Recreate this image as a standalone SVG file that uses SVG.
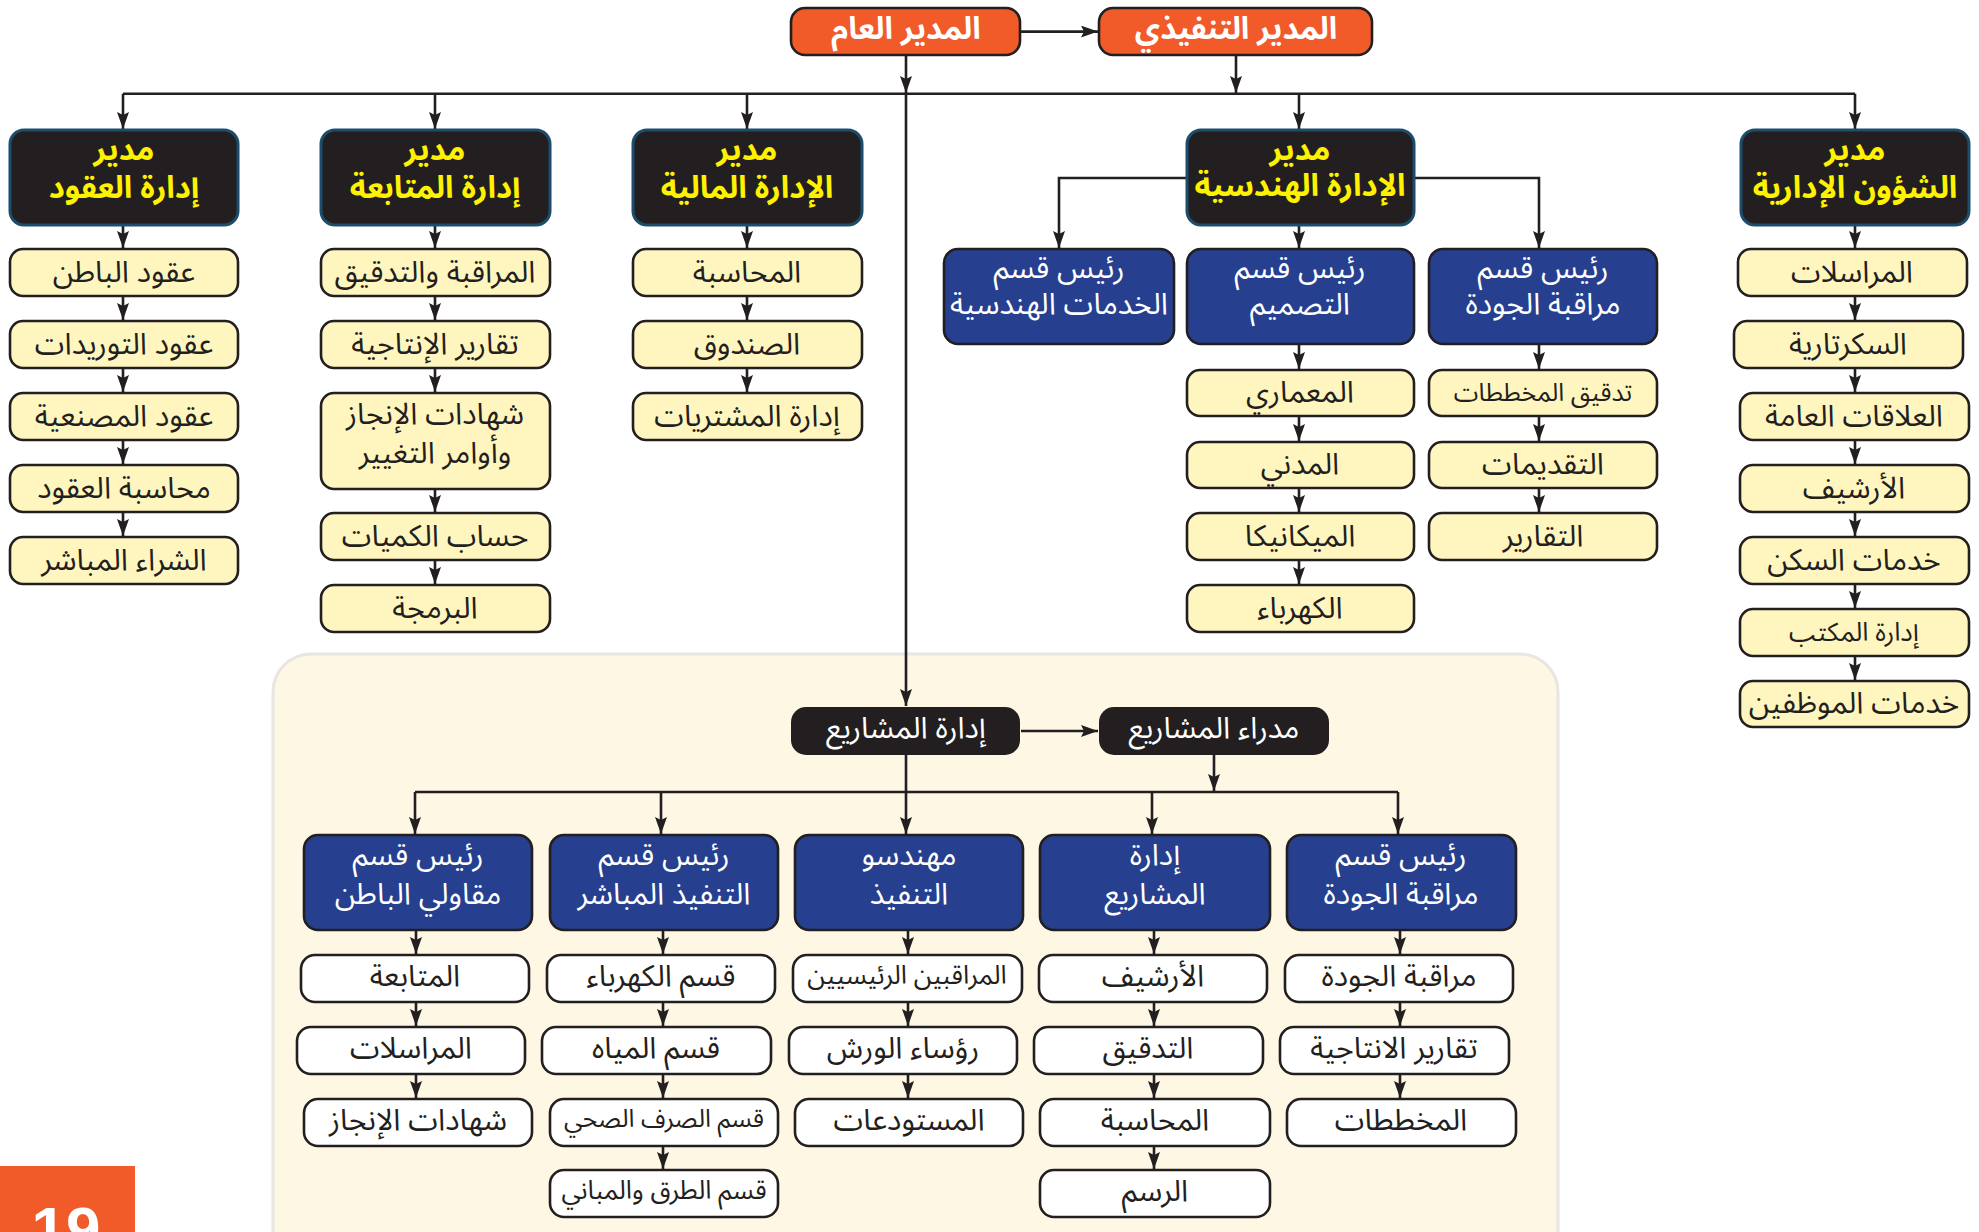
<svg xmlns="http://www.w3.org/2000/svg" width="1979" height="1232" viewBox="0 0 1979 1232">
<style>
.ln{stroke:#231f20;stroke-width:2.6;fill:none}
.hd{fill:#231f20;stroke:#1c4d6b;stroke-width:3}
.yl{fill:#fff6bf;stroke:#231f20;stroke-width:2.6}
.bl{fill:#263f8e;stroke:#231f20;stroke-width:2.6}
.wh{fill:#ffffff;stroke:#231f20;stroke-width:2.6}
.dk{fill:#231f20}
.or{fill:#f15a29;stroke:#231f20;stroke-width:2.6}
text{font-family:"Noto Sans Arabic","DejaVu Sans Condensed","DejaVu Sans",sans-serif;font-size:30px;text-anchor:middle;fill:#231f20}
.ty{fill:#fff200;font-weight:bold;font-size:31px}
.tw{fill:#ffffff}
.to{fill:#ffffff;font-weight:bold;font-size:31px}
.s25{font-size:25px}
.s26{font-size:26px}
</style>
<defs>
<marker id="ah" markerUnits="userSpaceOnUse" markerWidth="18" markerHeight="12" refX="17" refY="6" orient="auto">
<path d="M0,0 L17,6 L0,12 L3,6 Z" fill="#231f20"/>
</marker>
</defs>
<rect x="273" y="654" width="1285" height="620" rx="38" fill="#fdf7e4" stroke="#e8e6e1" stroke-width="3"/>
<rect x="0" y="1166" width="135" height="70" fill="#f15a29"/>
<text x="66" y="1250" style="font-family:'Liberation Sans',sans-serif;font-size:62px;font-weight:bold;fill:#fff">19</text>
<g id="connectors">
<path class="ln" marker-end="url(#ah)" d="M1021,31.6 H1098"/>
<path class="ln" marker-end="url(#ah)" d="M906,55 V93"/>
<path class="ln" marker-end="url(#ah)" d="M1236,55 V93"/>
<path class="ln" d="M123,93.7 H1855"/>
<path class="ln" marker-end="url(#ah)" d="M906,93 V706"/>
<path class="ln" marker-end="url(#ah)" d="M123,93.7 V129"/>
<path class="ln" marker-end="url(#ah)" d="M435,93.7 V129"/>
<path class="ln" marker-end="url(#ah)" d="M747,93.7 V129"/>
<path class="ln" marker-end="url(#ah)" d="M1299,93.7 V129"/>
<path class="ln" marker-end="url(#ah)" d="M1855,93.7 V129"/>
<path class="ln" marker-end="url(#ah)" d="M123,225 V248"/>
<path class="ln" marker-end="url(#ah)" d="M123,297 V320"/>
<path class="ln" marker-end="url(#ah)" d="M123,369 V392"/>
<path class="ln" marker-end="url(#ah)" d="M123,441 V464"/>
<path class="ln" marker-end="url(#ah)" d="M123,513 V536"/>
<path class="ln" marker-end="url(#ah)" d="M435,225 V248"/>
<path class="ln" marker-end="url(#ah)" d="M435,297 V320"/>
<path class="ln" marker-end="url(#ah)" d="M435,369 V392"/>
<path class="ln" marker-end="url(#ah)" d="M435,489 V512"/>
<path class="ln" marker-end="url(#ah)" d="M435,561 V584"/>
<path class="ln" marker-end="url(#ah)" d="M747,225 V248"/>
<path class="ln" marker-end="url(#ah)" d="M747,297 V320"/>
<path class="ln" marker-end="url(#ah)" d="M747,369 V392"/>
<path class="ln" marker-end="url(#ah)" d="M1187,178 H1059 V248"/>
<path class="ln" marker-end="url(#ah)" d="M1414,178 H1539 V248"/>
<path class="ln" marker-end="url(#ah)" d="M1299,225 V248"/>
<path class="ln" marker-end="url(#ah)" d="M1299,344 V369"/>
<path class="ln" marker-end="url(#ah)" d="M1299,416 V441"/>
<path class="ln" marker-end="url(#ah)" d="M1299,488 V512"/>
<path class="ln" marker-end="url(#ah)" d="M1299,560 V584"/>
<path class="ln" marker-end="url(#ah)" d="M1539,344 V369"/>
<path class="ln" marker-end="url(#ah)" d="M1539,416 V441"/>
<path class="ln" marker-end="url(#ah)" d="M1539,488 V512"/>
<path class="ln" marker-end="url(#ah)" d="M1855,225 V248"/>
<path class="ln" marker-end="url(#ah)" d="M1855,297 V320"/>
<path class="ln" marker-end="url(#ah)" d="M1855,369 V392"/>
<path class="ln" marker-end="url(#ah)" d="M1855,441 V464"/>
<path class="ln" marker-end="url(#ah)" d="M1855,513 V536"/>
<path class="ln" marker-end="url(#ah)" d="M1855,584 V608"/>
<path class="ln" marker-end="url(#ah)" d="M1855,656 V680"/>
<path class="ln" marker-end="url(#ah)" d="M1021,731 H1098"/>
<path class="ln" marker-end="url(#ah)" d="M906,755 V834"/>
<path class="ln" marker-end="url(#ah)" d="M1214,755 V791"/>
<path class="ln" d="M415,792 H1398"/>
<path class="ln" marker-end="url(#ah)" d="M415,792 V834"/>
<path class="ln" marker-end="url(#ah)" d="M661,792 V834"/>
<path class="ln" marker-end="url(#ah)" d="M1152,792 V834"/>
<path class="ln" marker-end="url(#ah)" d="M1398,792 V834"/>
<path class="ln" marker-end="url(#ah)" d="M416,930 V954"/>
<path class="ln" marker-end="url(#ah)" d="M416,1002 V1026"/>
<path class="ln" marker-end="url(#ah)" d="M416,1074 V1098"/>
<path class="ln" marker-end="url(#ah)" d="M663,930 V954"/>
<path class="ln" marker-end="url(#ah)" d="M663,1002 V1026"/>
<path class="ln" marker-end="url(#ah)" d="M663,1074 V1098"/>
<path class="ln" marker-end="url(#ah)" d="M663,1146 V1169"/>
<path class="ln" marker-end="url(#ah)" d="M908,930 V954"/>
<path class="ln" marker-end="url(#ah)" d="M908,1002 V1026"/>
<path class="ln" marker-end="url(#ah)" d="M908,1074 V1098"/>
<path class="ln" marker-end="url(#ah)" d="M1154,930 V954"/>
<path class="ln" marker-end="url(#ah)" d="M1154,1002 V1026"/>
<path class="ln" marker-end="url(#ah)" d="M1154,1074 V1098"/>
<path class="ln" marker-end="url(#ah)" d="M1154,1146 V1169"/>
<path class="ln" marker-end="url(#ah)" d="M1400,930 V954"/>
<path class="ln" marker-end="url(#ah)" d="M1400,1002 V1026"/>
<path class="ln" marker-end="url(#ah)" d="M1400,1074 V1098"/>
</g>
<g id="gm"><rect class="or" x="791" y="8" width="229" height="47" rx="14"/><text class="to" x="906" y="39">المدير العام</text></g>
<g id="ceo"><rect class="or" x="1099" y="8" width="273" height="47" rx="14"/><text class="to" x="1236" y="39">المدير التنفيذي</text></g>

<g id="contracts"><rect class="hd" x="10" y="130" width="228" height="95" rx="14"/><text class="ty" x="124" y="160">مدير</text><text class="ty" x="124" y="198">إدارة العقود</text></g>
<g id="c1"><rect class="yl" x="10" y="249" width="228" height="47" rx="13"/><text x="124" y="282">عقود الباطن</text></g>
<g id="c2"><rect class="yl" x="10" y="321" width="228" height="47" rx="13"/><text x="124" y="354">عقود التوريدات</text></g>
<g id="c3"><rect class="yl" x="10" y="393" width="228" height="47" rx="13"/><text x="124" y="426">عقود المصنعية</text></g>
<g id="c4"><rect class="yl" x="10" y="465" width="228" height="47" rx="13"/><text x="124" y="498">محاسبة العقود</text></g>
<g id="c5"><rect class="yl" x="10" y="537" width="228" height="47" rx="13"/><text x="124" y="570">الشراء المباشر</text></g>

<g id="followup"><rect class="hd" x="321" y="130" width="229" height="95" rx="14"/><text class="ty" x="435" y="160">مدير</text><text class="ty" x="435" y="198">إدارة المتابعة</text></g>
<g id="f1"><rect class="yl" x="321" y="249" width="229" height="47" rx="13"/><text x="435" y="282">المراقبة والتدقيق</text></g>
<g id="f2"><rect class="yl" x="321" y="321" width="229" height="47" rx="13"/><text x="435" y="354">تقارير الإنتاجية</text></g>
<g id="f3"><rect class="yl" x="321" y="393" width="229" height="96" rx="13"/><text x="435" y="424">شهادات الإنجاز</text><text x="435" y="463">وأوامر التغيير</text></g>
<g id="f4"><rect class="yl" x="321" y="513" width="229" height="47" rx="13"/><text x="435" y="546">حساب الكميات</text></g>
<g id="f5"><rect class="yl" x="321" y="585" width="229" height="47" rx="13"/><text x="435" y="618">البرمجة</text></g>

<g id="finance"><rect class="hd" x="633" y="130" width="229" height="95" rx="14"/><text class="ty" x="747" y="160">مدير</text><text class="ty" x="747" y="198">الإدارة المالية</text></g>
<g id="m1"><rect class="yl" x="633" y="249" width="229" height="47" rx="13"/><text x="747" y="282">المحاسبة</text></g>
<g id="m2"><rect class="yl" x="633" y="321" width="229" height="47" rx="13"/><text x="747" y="354">الصندوق</text></g>
<g id="m3"><rect class="yl" x="633" y="393" width="229" height="47" rx="13"/><text x="747" y="426">إدارة المشتريات</text></g>

<g id="eng"><rect class="hd" x="1187" y="130" width="227" height="95" rx="14"/><text class="ty" x="1300" y="160">مدير</text><text class="ty" x="1300" y="196">الإدارة الهندسية</text></g>
<g id="e_services"><rect class="bl" x="944" y="249" width="230" height="95" rx="14"/><text class="tw" x="1059" y="278">رئيس قسم</text><text class="tw" x="1059" y="314">الخدمات الهندسية</text></g>
<g id="e_design"><rect class="bl" x="1187" y="249" width="227" height="95" rx="14"/><text class="tw" x="1300" y="278">رئيس قسم</text><text class="tw" x="1300" y="314">التصميم</text></g>
<g id="e_quality"><rect class="bl" x="1429" y="249" width="228" height="95" rx="14"/><text class="tw" x="1543" y="278">رئيس قسم</text><text class="tw" x="1543" y="314">مراقبة الجودة</text></g>
<g id="d1"><rect class="yl" x="1187" y="370" width="227" height="46" rx="13"/><text x="1300" y="402">المعماري</text></g>
<g id="d2"><rect class="yl" x="1187" y="442" width="227" height="46" rx="13"/><text x="1300" y="474">المدني</text></g>
<g id="d3"><rect class="yl" x="1187" y="513" width="227" height="47" rx="13"/><text x="1300" y="546">الميكانيكا</text></g>
<g id="d4"><rect class="yl" x="1187" y="585" width="227" height="47" rx="13"/><text x="1300" y="618">الكهرباء</text></g>
<g id="q1"><rect class="yl" x="1429" y="370" width="228" height="46" rx="13"/><text class="s25" x="1543" y="401">تدقيق المخططات</text></g>
<g id="q2"><rect class="yl" x="1429" y="442" width="228" height="46" rx="13"/><text x="1543" y="474">التقديمات</text></g>
<g id="q3"><rect class="yl" x="1429" y="513" width="228" height="47" rx="13"/><text x="1543" y="546">التقارير</text></g>

<g id="admin"><rect class="hd" x="1741" y="130" width="228" height="95" rx="14"/><text class="ty" x="1855" y="160">مدير</text><text class="ty" x="1855" y="198">الشؤون الإدارية</text></g>
<g id="a1"><rect class="yl" x="1738" y="249" width="229" height="47" rx="13"/><text x="1852" y="282">المراسلات</text></g>
<g id="a2"><rect class="yl" x="1734" y="321" width="229" height="47" rx="13"/><text x="1848" y="354">السكرتارية</text></g>
<g id="a3"><rect class="yl" x="1740" y="393" width="229" height="47" rx="13"/><text x="1854" y="426">العلاقات العامة</text></g>
<g id="a4"><rect class="yl" x="1740" y="465" width="229" height="47" rx="13"/><text x="1854" y="498">الأرشيف</text></g>
<g id="a5"><rect class="yl" x="1740" y="537" width="229" height="47" rx="13"/><text x="1854" y="570">خدمات السكن</text></g>
<g id="a6"><rect class="yl" x="1740" y="609" width="229" height="47" rx="13"/><text class="s26" x="1854" y="641">إدارة المكتب</text></g>
<g id="a7"><rect class="yl" x="1740" y="681" width="229" height="46" rx="13"/><text x="1854" y="713">خدمات الموظفين</text></g>

<g id="pm"><rect class="dk" x="791" y="707" width="229" height="48" rx="15"/><text class="tw" x="906" y="738">إدارة المشاريع</text></g>
<g id="pms"><rect class="dk" x="1099" y="707" width="230" height="48" rx="15"/><text class="tw" x="1214" y="738">مدراء المشاريع</text></g>

<g id="b_sub"><rect class="bl" x="304" y="835" width="228" height="95" rx="14"/><text class="tw" x="418" y="865">رئيس قسم</text><text class="tw" x="418" y="904">مقاولي الباطن</text></g>
<g id="b_direct"><rect class="bl" x="550" y="835" width="228" height="95" rx="14"/><text class="tw" x="664" y="865">رئيس قسم</text><text class="tw" x="664" y="904">التنفيذ المباشر</text></g>
<g id="b_exec"><rect class="bl" x="795" y="835" width="228" height="95" rx="14"/><text class="tw" x="909" y="865">مهندسو</text><text class="tw" x="909" y="904">التنفيذ</text></g>
<g id="b_pm"><rect class="bl" x="1040" y="835" width="230" height="95" rx="14"/><text class="tw" x="1155" y="865">إدارة</text><text class="tw" x="1155" y="904">المشاريع</text></g>
<g id="b_q"><rect class="bl" x="1287" y="835" width="229" height="95" rx="14"/><text class="tw" x="1401" y="865">رئيس قسم</text><text class="tw" x="1401" y="904">مراقبة الجودة</text></g>

<g id="s1"><rect class="wh" x="301" y="955" width="228" height="47" rx="14"/><text x="415" y="986">المتابعة</text></g>
<g id="s2"><rect class="wh" x="297" y="1027" width="228" height="47" rx="14"/><text x="411" y="1058">المراسلات</text></g>
<g id="s3"><rect class="wh" x="304" y="1099" width="228" height="47" rx="14"/><text x="418" y="1130">شهادات الإنجاز</text></g>

<g id="x1"><rect class="wh" x="547" y="955" width="228" height="47" rx="14"/><text x="661" y="986">قسم الكهرباء</text></g>
<g id="x2"><rect class="wh" x="542" y="1027" width="229" height="47" rx="14"/><text x="656" y="1058">قسم المياه</text></g>
<g id="x3"><rect class="wh" x="550" y="1099" width="228" height="47" rx="14"/><text class="s25" x="664" y="1127">قسم الصرف الصحي</text></g>
<g id="x4"><rect class="wh" x="550" y="1170" width="228" height="47" rx="14"/><text class="s26" x="664" y="1199">قسم الطرق والمباني</text></g>

<g id="g1"><rect class="wh" x="793" y="955" width="229" height="47" rx="14"/><text class="s26" x="907" y="984">المراقبين الرئيسيين</text></g>
<g id="g2"><rect class="wh" x="789" y="1027" width="228" height="47" rx="14"/><text x="903" y="1058">رؤساء الورش</text></g>
<g id="g3"><rect class="wh" x="795" y="1099" width="228" height="47" rx="14"/><text x="909" y="1130">المستودعات</text></g>

<g id="p1"><rect class="wh" x="1039" y="955" width="228" height="47" rx="14"/><text x="1153" y="986">الأرشيف</text></g>
<g id="p2"><rect class="wh" x="1034" y="1027" width="229" height="47" rx="14"/><text x="1148" y="1058">التدقيق</text></g>
<g id="p3"><rect class="wh" x="1040" y="1099" width="230" height="47" rx="14"/><text x="1155" y="1130">المحاسبة</text></g>
<g id="p4"><rect class="wh" x="1040" y="1170" width="230" height="47" rx="14"/><text x="1155" y="1201">الرسم</text></g>

<g id="k1"><rect class="wh" x="1285" y="955" width="228" height="47" rx="14"/><text x="1399" y="986">مراقبة الجودة</text></g>
<g id="k2"><rect class="wh" x="1280" y="1027" width="229" height="47" rx="14"/><text x="1394" y="1058">تقارير الانتاجية</text></g>
<g id="k3"><rect class="wh" x="1287" y="1099" width="229" height="47" rx="14"/><text x="1401" y="1130">المخططات</text></g>
</svg>
